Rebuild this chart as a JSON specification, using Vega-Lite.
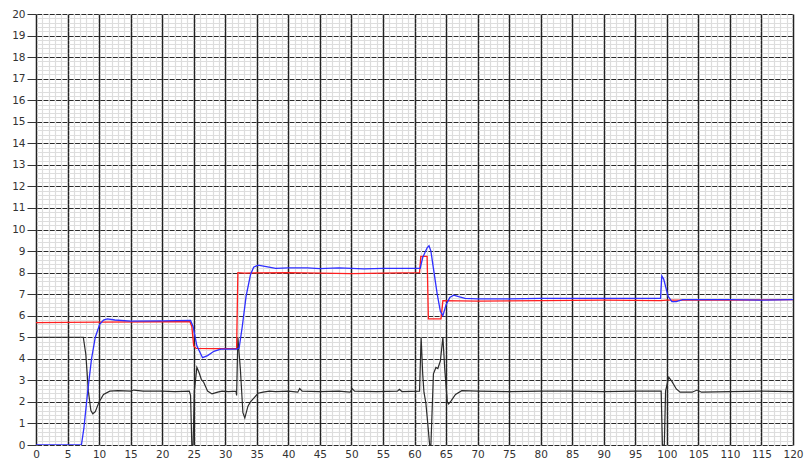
{
  "$schema": "https://vega.github.io/schema/vega-lite/v6.json",
  "width": 757,
  "height": 431,
  "autosize": "none",
  "padding": {"left": 36, "top": 14, "right": 16, "bottom": 18},
  "background": "white",
  "config": {"view": {"stroke": null}, "axis": {"labelFont": "DejaVu Sans", "labelFontSize": 10.5, "labelColor": "#333333"}},
  "datasets": {
    "k": [
      {"t":0,"v":5},{"t":7.5,"v":5},{"t":7.9,"v":4.2},{"t":8.3,"v":2.5},{"t":8.7,"v":1.6},{"t":9.0,"v":1.45},{"t":9.4,"v":1.55},{"t":10,"v":2.0},{"t":10.7,"v":2.35},{"t":11.7,"v":2.5},{"t":13,"v":2.52},{"t":15,"v":2.5},{"t":15.5,"v":2.55},{"t":17,"v":2.5},{"t":20,"v":2.5},{"t":22,"v":2.48},{"t":24.3,"v":2.5},{"t":24.5,"v":2.3},{"t":24.7,"v":0},{"t":24.9,"v":0},{"t":25.1,"v":2.5},{"t":25.5,"v":3.6},{"t":25.8,"v":3.4},{"t":26.2,"v":3.05},{"t":26.6,"v":2.9},{"t":27.2,"v":2.5},{"t":27.9,"v":2.37},{"t":28.8,"v":2.45},{"t":29.5,"v":2.5},{"t":30.5,"v":2.48},{"t":31.7,"v":2.5},{"t":31.8,"v":2.3},{"t":32.0,"v":5.0},{"t":32.4,"v":3.5},{"t":32.8,"v":1.5},{"t":33.1,"v":1.25},{"t":33.6,"v":1.8},{"t":34.0,"v":2.0},{"t":34.6,"v":2.2},{"t":35.2,"v":2.4},{"t":36,"v":2.45},{"t":37,"v":2.5},{"t":38,"v":2.48},{"t":40,"v":2.5},{"t":41.5,"v":2.45},{"t":41.8,"v":2.62},{"t":42.2,"v":2.5},{"t":45,"v":2.48},{"t":48,"v":2.5},{"t":49.8,"v":2.45},{"t":50.1,"v":2.62},{"t":50.5,"v":2.5},{"t":54,"v":2.48},{"t":57.3,"v":2.5},{"t":57.6,"v":2.58},{"t":58,"v":2.48},{"t":60.8,"v":2.5},{"t":61.05,"v":5.0},{"t":61.3,"v":3.3},{"t":61.5,"v":2.45},{"t":61.8,"v":1.95},{"t":62.1,"v":1.0},{"t":62.4,"v":0},{"t":62.6,"v":0},{"t":63.0,"v":3.3},{"t":63.4,"v":3.6},{"t":63.7,"v":3.55},{"t":64.1,"v":3.9},{"t":64.5,"v":5.0},{"t":64.8,"v":3.5},{"t":65.2,"v":2.0},{"t":65.4,"v":1.9},{"t":65.8,"v":2.05},{"t":66.5,"v":2.35},{"t":67.5,"v":2.52},{"t":70,"v":2.5},{"t":75,"v":2.48},{"t":80,"v":2.5},{"t":85,"v":2.5},{"t":90,"v":2.48},{"t":95,"v":2.5},{"t":99.1,"v":2.5},{"t":99.3,"v":0},{"t":99.6,"v":0},{"t":99.8,"v":2.5},{"t":100.3,"v":3.15},{"t":100.8,"v":2.95},{"t":101.5,"v":2.6},{"t":102.1,"v":2.45},{"t":104,"v":2.45},{"t":104.8,"v":2.55},{"t":105.5,"v":2.45},{"t":110,"v":2.48},{"t":115,"v":2.5},{"t":120,"v":2.48}
    ],
    "r": [
      {"t":0,"v":5.68},{"t":10,"v":5.7},{"t":20,"v":5.72},{"t":24.4,"v":5.72},{"t":24.7,"v":5.5},{"t":25.0,"v":4.6},{"t":25.4,"v":4.48},{"t":28,"v":4.47},{"t":31.8,"v":4.47},{"t":32.0,"v":8.0},{"t":33,"v":7.98},{"t":40,"v":8.0},{"t":45,"v":7.98},{"t":50,"v":7.95},{"t":55,"v":7.98},{"t":60.8,"v":8.0},{"t":61.0,"v":8.75},{"t":62.0,"v":8.75},{"t":62.2,"v":5.85},{"t":64.2,"v":5.85},{"t":64.5,"v":6.7},{"t":70,"v":6.68},{"t":80,"v":6.7},{"t":90,"v":6.72},{"t":99,"v":6.7},{"t":100,"v":6.72},{"t":110,"v":6.72},{"t":120,"v":6.75}
    ],
    "b": [
      {"t":0,"v":0},{"t":7.2,"v":0},{"t":7.6,"v":0.8},{"t":8.2,"v":2.5},{"t":8.8,"v":4.0},{"t":9.4,"v":5.0},{"t":10.1,"v":5.6},{"t":10.7,"v":5.8},{"t":11.3,"v":5.85},{"t":12.5,"v":5.8},{"t":15,"v":5.75},{"t":20,"v":5.76},{"t":24.5,"v":5.78},{"t":24.9,"v":5.5},{"t":25.5,"v":4.6},{"t":26.4,"v":4.05},{"t":27.2,"v":4.15},{"t":28.2,"v":4.35},{"t":29.3,"v":4.45},{"t":31.8,"v":4.45},{"t":32.2,"v":4.5},{"t":32.7,"v":5.5},{"t":33.3,"v":6.9},{"t":34,"v":7.9},{"t":34.5,"v":8.25},{"t":35.2,"v":8.35},{"t":36.5,"v":8.28},{"t":38,"v":8.2},{"t":40,"v":8.22},{"t":43,"v":8.22},{"t":45,"v":8.18},{"t":48,"v":8.22},{"t":52,"v":8.17},{"t":55,"v":8.2},{"t":58,"v":8.2},{"t":60.9,"v":8.2},{"t":61.3,"v":8.7},{"t":62.0,"v":9.15},{"t":62.3,"v":9.25},{"t":62.6,"v":9.0},{"t":63.0,"v":8.2},{"t":63.6,"v":7.0},{"t":64.1,"v":6.2},{"t":64.5,"v":6.0},{"t":65.0,"v":6.5},{"t":65.6,"v":6.85},{"t":66.2,"v":6.95},{"t":67,"v":6.88},{"t":68,"v":6.8},{"t":70,"v":6.78},{"t":75,"v":6.78},{"t":80,"v":6.8},{"t":85,"v":6.8},{"t":90,"v":6.8},{"t":95,"v":6.8},{"t":99.0,"v":6.8},{"t":99.2,"v":7.85},{"t":99.5,"v":7.7},{"t":100.2,"v":6.9},{"t":100.8,"v":6.65},{"t":101.5,"v":6.65},{"t":102.5,"v":6.75},{"t":105,"v":6.75},{"t":110,"v":6.75},{"t":115,"v":6.72},{"t":120,"v":6.75}
    ]
  },
  "layer": [
    {
      "data": {"name": "k"},
      "mark": {"type": "line", "color": "#2b2b2b", "strokeWidth": 1.2, "clip": true},
      "encoding": {
        "x": {"field": "t", "type": "quantitative", "scale": {"domain": [0, 120], "nice": false, "zero": false},
          "axis": {"orient": "bottom", "tickCount": 120, "labels": false, "ticks": false, "domain": false, "grid": true, "gridColor": "#dddddd", "gridWidth": 1.2, "gridOpacity": 1, "title": null}},
        "y": {"field": "v", "type": "quantitative", "scale": {"domain": [0, 20], "nice": false},
          "axis": {"orient": "left", "tickCount": 100, "labels": false, "ticks": false, "domain": false, "grid": true, "gridColor": "#dddddd", "gridWidth": 1.2, "gridDash": [29.9417, 1.6], "gridDashOffset": 30.74, "gridOpacity": 1, "title": null}}
      }
    },
    {
      "data": {"name": "r"},
      "mark": {"type": "line", "color": "#ff1f1f", "strokeWidth": 1.3, "clip": true},
      "encoding": {
        "x": {"field": "t", "type": "quantitative", "scale": {"domain": [0, 120], "nice": false, "zero": false},
          "axis": {"orient": "bottom", "values": [0,5,10,15,20,25,30,35,40,45,50,55,60,65,70,75,80,85,90,95,100,105,110,115,120], "format": "d", "grid": true, "gridColor": "#222222", "gridWidth": 1.5, "gridOpacity": 1, "domain": false, "ticks": false, "labelPadding": 4, "labelFlush": false, "title": null}},
        "y": {"field": "v", "type": "quantitative", "scale": {"domain": [0, 20], "nice": false},
          "axis": {"orient": "left", "values": [0,1,2,3,4,5,6,7,8,9,10,11,12,13,14,15,16,17,18,19,20], "format": "d", "grid": true, "gridColor": "#2a2a2a", "gridWidth": 1.2, "gridDash": [4.8083, 1.5], "gridDashOffset": 5.558, "gridOpacity": 1, "domain": false, "ticks": true, "tickColor": "#333333", "tickSize": 9, "labelPadding": 2, "title": null}}
      }
    },
    {
      "data": {"name": "b"},
      "mark": {"type": "line", "color": "#2f2fff", "strokeWidth": 1.3, "clip": true},
      "encoding": {
        "x": {"field": "t", "type": "quantitative", "scale": {"domain": [0, 120], "nice": false, "zero": false}, "axis": null},
        "y": {"field": "v", "type": "quantitative", "scale": {"domain": [0, 20], "nice": false}, "axis": null}
      }
    }
  ],
  "resolve": {"axis": {"x": "independent", "y": "independent"}}
}
